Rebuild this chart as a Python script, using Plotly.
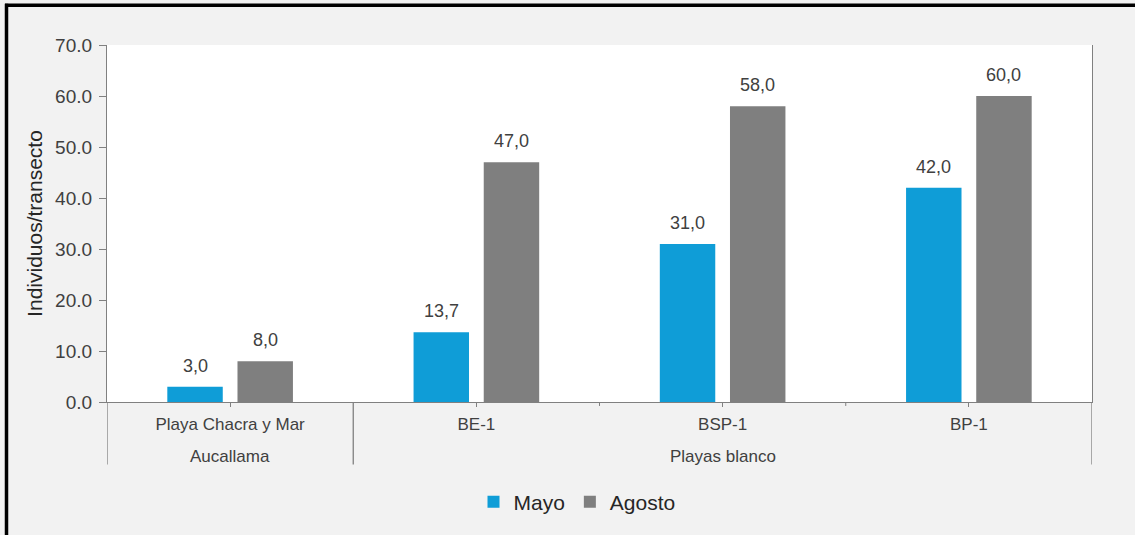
import plotly.graph_objects as go

# data
sites = ["Playa Chacra y Mar", "BE-1", "BSP-1", "BP-1"]
zones = ["Aucallama", "Playas blanco", "Playas blanco", "Playas blanco"]
mayo = [3.0, 13.7, 31.0, 42.0]
agosto = [8.0, 47.0, 58.0, 60.0]

# page geometry (px)
W, H = 1135, 535
ML, MR, MT, MB = 107, 43, 45, 130
PW, PH = W - ML - MR, H - MT - MB
BARGAP = 0.43

TXT = '#404040'
AXC = '#808080'
FONT = 'Liberation Sans, Arial, sans-serif'


def px_x(x):
    return (x - ML) / PW


def px_y(y):
    return (H - MB - y) / PH


def lab(vals):
    return [f'{v:.1f}'.replace('.', ',') for v in vals]


fig = go.Figure()

series = [('Mayo', mayo, '#0F9DD7'), ('Agosto', agosto, '#7F7F7F')]
for name, vals, col in series:
    fig.add_trace(go.Bar(
        x=sites, y=vals, name=name,
        marker=dict(color=col, line=dict(width=0))
    ))

# value labels above bars (comma decimal, as in the original)
slot = PW / len(sites) * (1 - BARGAP) / len(series)
for j, (name, vals, col) in enumerate(series):
    off = (j - (len(series) - 1) / 2) * slot
    for s, v, t in zip(sites, vals, lab(vals)):
        fig.add_annotation(
            x=s, y=v, xref='x', yref='y', text=t, showarrow=False,
            xshift=off, yshift=9, yanchor='bottom',
            font=dict(size=18, color=TXT, family=FONT)
        )

# group labels under the site labels
groups = []
for i, z in enumerate(zones):
    if groups and groups[-1][0] == z:
        groups[-1][2] = i
    else:
        groups.append([z, i, i])

for name, i0, i1 in groups:
    fig.add_annotation(
        x=(i0 + i1) / 2, y=px_y(460), xref='x', yref='paper',
        text=name, showarrow=False, yanchor='middle',
        font=dict(size=17, color=TXT, family=FONT)
    )

# dividers between groups and short ticks between categories
bounds = [groups[0][1] - 0.5] + [g[2] + 0.5 for g in groups]
for b in bounds:
    fig.add_shape(type='line', xref='x', yref='paper',
                  x0=b, x1=b, y0=0, y1=px_y(468),
                  line=dict(color=AXC, width=1.3))
for name, i0, i1 in groups:
    for k in range(i0, i1):
        fig.add_shape(type='line', xref='x', yref='paper',
                      x0=k + 0.5, x1=k + 0.5, y0=0, y1=px_y(409),
                      line=dict(color=AXC, width=1))

# outer frame (left and top edges)
fig.add_shape(type='line', xref='paper', yref='paper',
              x0=px_x(6.5), x1=px_x(6.5), y0=px_y(3.5), y1=px_y(540),
              line=dict(color='black', width=3.5))
fig.add_shape(type='line', xref='paper', yref='paper',
              x0=px_x(5), x1=px_x(1140), y0=px_y(5), y1=px_y(5),
              line=dict(color='black', width=3.5))

fig.update_xaxes(
    type='category', range=[-0.5, len(sites) - 0.5],
    showline=True, linecolor=AXC, linewidth=1.3,
    ticks='outside', ticklen=4, tickcolor=AXC,
    showgrid=False, ticklabelstandoff=2,
    tickfont=dict(size=17, color=TXT, family=FONT)
)
fig.update_yaxes(
    range=[0, 70], dtick=10, tickformat='.1f',
    showline=True, mirror=True, linecolor=AXC, linewidth=1.3,
    ticks='outside', ticklen=7, tickcolor=AXC,
    showgrid=False, zeroline=False, ticklabelstandoff=3,
    tickfont=dict(size=19, color=TXT, family=FONT),
    title=dict(text='Individuos/transecto', standoff=6,
               font=dict(size=21, color='#262626', family=FONT))
)

fig.update_layout(
    width=W, height=H,
    margin=dict(l=ML, r=MR, t=MT, b=MB),
    paper_bgcolor='#F2F2F2',
    plot_bgcolor='white',
    barmode='group', bargap=BARGAP, bargroupgap=0.21,
    showlegend=True,
    legend=dict(orientation='h', x=px_x(577), xanchor='center',
                y=px_y(506), yanchor='middle',
                font=dict(size=21, color='#262626', family=FONT),
                bgcolor='rgba(0,0,0,0)', itemwidth=30),
    font=dict(family=FONT)
)

fig.write_html("out.html", config={'displayModeBar': False},
               post_script="document.body.style.margin='0';")
